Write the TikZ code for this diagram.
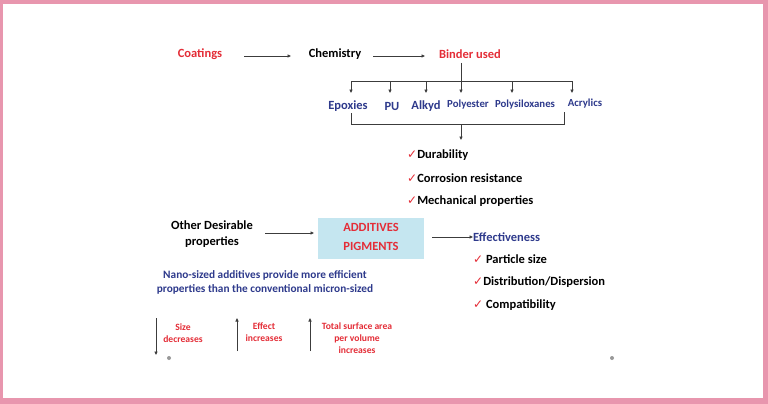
\documentclass[tikz,border=0pt]{standalone}
\usepackage{fontspec}
\setmainfont{Carlito}
\newfontfamily\dejavu{DejaVu Sans}
\usetikzlibrary{arrows.meta}
\definecolor{pinkframe}{RGB}{232,150,174}
\definecolor{tred}{RGB}{228,45,55}
\definecolor{tblue}{RGB}{46,58,140}
\definecolor{boxblue}{RGB}{197,230,240}
\definecolor{lgray}{RGB}{60,60,60}
\tikzset{
  lbl/.style={font=\bfseries\fontsize{12.5}{14}\selectfont, inner sep=0pt, align=center},
  redl/.style={lbl, text=tred},
  bluel/.style={lbl, text=tblue},
  bluesm/.style={bluel, font=\bfseries\fontsize{10.8}{12}\selectfont},
  nano/.style={bluel, font=\bfseries\fontsize{11.3}{14}\selectfont},
  tiny/.style={lbl, text=tred, font=\bfseries\fontsize{9.6}{12}\selectfont},
  chk/.style={lbl, anchor=west},
  conn/.style={draw=lgray, line width=0.8pt, -{Triangle[length=3.5pt,width=3pt]}},
  plain/.style={draw=lgray, line width=0.8pt},
  dot/.style={circle, fill=gray!80, inner sep=0pt, minimum size=4pt}
}
\newcommand{\ck}{{\dejavu\fontsize{12}{12}\selectfont\color{tred}\char"2713}}
\begin{document}
\begin{tikzpicture}[x=1pt,y=-1pt]
\fill[pinkframe] (0,0) rectangle (768,404);
\fill[white] (3,4) rectangle (763,398);
\useasboundingbox (0,0) rectangle (768,404);
% top row
\node[redl] (coat) at (200,54) {Coatings};
\node[lbl] (chem) at (335,54) {Chemistry};
\node[redl] (bind) at (470,54) {Binder used};
\coordinate (a1s) at (244,56); \coordinate (a1e) at (291,56);
\coordinate (a2s) at (373,56); \coordinate (a2e) at (425,56);
\draw[conn] (a1s) -- (a1e);
\draw[conn] (a2s) -- (a2e);
% binder tree
\coordinate (bt) at (461,63);
\coordinate (bj) at (461,81);
\coordinate (bl) at (351,81);
\coordinate (br) at (572,81);
\draw[plain] (bt) -- (bj);
\draw[plain] (bl) -- (br);
\node[bluel] (epo) at (348,106) {Epoxies};
\node[bluel] (pu) at (392,106) {PU};
\node[bluel] (alk) at (426,106) {Alkyd};
\node[bluesm] (pol) at (468,105) {Polyester};
\node[bluesm] (pls) at (525,105) {Polysiloxanes};
\node[bluesm] (acr) at (585,104) {Acrylics};
\foreach \x/\n in {351/d1,390/d2,426/d3,461/d4,512/d5,572/d6}{
  \coordinate (\n s) at (\x,81);
  \coordinate (\n e) at (\x,93);
  \draw[conn] (\n s) -- (\n e);
}
% bottom bracket
\coordinate (k1) at (351,113); \coordinate (k2) at (351,124);
\coordinate (k3) at (564,124); \coordinate (k4) at (564,112);
\coordinate (km) at (461,124); \coordinate (kme) at (461,140);
\draw[plain] (k1) -- (k2) -- (k3) -- (k4);
\draw[conn] (km) -- (kme);
% properties
\node[chk] (dur) at (407,155) {\ck Durability};
\node[chk] (cor) at (407,178) {\ck Corrosion resistance};
\node[chk] (mec) at (407,201) {\ck Mechanical properties};
% middle row
\node[lbl] (oth) at (212,234) {Other Desirable\\[1.5pt]properties};
\node[fill=boxblue, minimum width=106pt, minimum height=41pt, inner sep=0pt] (box) at (371,238.5) {};
\node[redl] (add) at (371,227) {ADDITIVES};
\node[redl] (pig) at (371,246) {PIGMENTS};
\coordinate (o1) at (265,233); \coordinate (o2) at (314,233);
\draw[conn] (o1) -- (o2);
\node[bluel, anchor=west] (eff) at (473,237) {Effectiveness};
\coordinate (e1) at (432,237);
\draw[conn] (e1) -- (eff.west);
\node[chk] (par) at (473,259) {\ck\ Particle size};
\node[chk] (dis) at (473,282) {\ck Distribution/Dispersion};
\node[chk] (com) at (473,305) {\ck\ Compatibility};
% nano text
\node[nano] (nan) at (265,282) {Nano-sized additives provide more efficient\\properties than the conventional micron-sized};
% bottom arrows
\coordinate (s1) at (156,318); \coordinate (s2) at (156,355);
\draw[conn] (s1) -- (s2);
\node[tiny] (siz) at (183,333) {Size\\decreases};
\coordinate (f1) at (237,351); \coordinate (f2) at (237,318);
\draw[conn] (f1) -- (f2);
\node[tiny] (efi) at (264,332) {Effect\\increases};
\coordinate (t1) at (310,351); \coordinate (t2) at (310,318);
\draw[conn] (t1) -- (t2);
\node[tiny] (tot) at (357,338) {Total surface area\\per volume\\increases};
\node[dot] (dl) at (169,358) {};
\node[dot] (dr) at (612,358) {};
\end{tikzpicture}
\end{document}
